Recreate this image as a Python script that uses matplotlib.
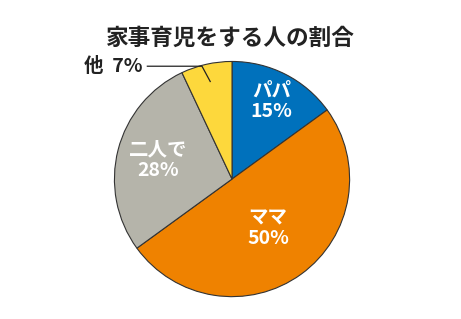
import numpy as np
import matplotlib
matplotlib.use("Agg")
import matplotlib.pyplot as plt

plt.rcParams['font.family'] = ['Noto Sans CJK JP', 'DejaVu Sans']

# データ
labels = ['パパ', 'ママ', '二人で', '他']
values = [15, 50, 28, 7]
colors = ['#0071BC', '#EF8200', '#B5B4AA', '#FDD83C']
label_dist = [0.74, 0.52, 0.65, None]
title = '家事育児をする人の割合'

fig = plt.figure(figsize=(4.61, 3.19), dpi=100)
ax = fig.add_axes([0.243, 0.0627, 0.5206, 0.752])

wedges, _ = ax.pie(values, colors=colors, startangle=90, counterclock=False,
                   wedgeprops=dict(edgecolor='#333333', linewidth=0.8))
ax.set_xlim(-1.02, 1.02)
ax.set_ylim(-1.02, 1.02)
ax.set_aspect('equal')

# ラベル(白文字)
for w, lab, v, d in zip(wedges, labels, values, label_dist):
    if d is None:
        continue
    ang = np.deg2rad((w.theta1 + w.theta2) / 2)
    ax.text(d * np.cos(ang), d * np.sin(ang), f'{lab}\n{v}%', color='white',
            fontsize=14, fontweight='bold', ha='center', va='center',
            linespacing=1.1)

# 他 7% は引き出し線
w = wedges[3]
ang = np.deg2rad((w.theta1 + w.theta2) / 2)
px, py = 0.85 * np.cos(ang), 0.85 * np.sin(ang)
ax.plot([px, px - 0.07, -0.72], [py, py + 0.13, py + 0.13], color='#222222', lw=0.9,
        clip_on=False)
ax.text(-0.76, py + 0.13, f'{labels[3]}  {values[3]}%', color='#222222', fontsize=14,
        fontweight='bold', ha='right', va='center')

fig.text(0.5, 0.88, title, fontsize=16.3, fontweight='bold', color='#222222',
         ha='center', va='center')

fig.savefig('out.png', dpi=100)
